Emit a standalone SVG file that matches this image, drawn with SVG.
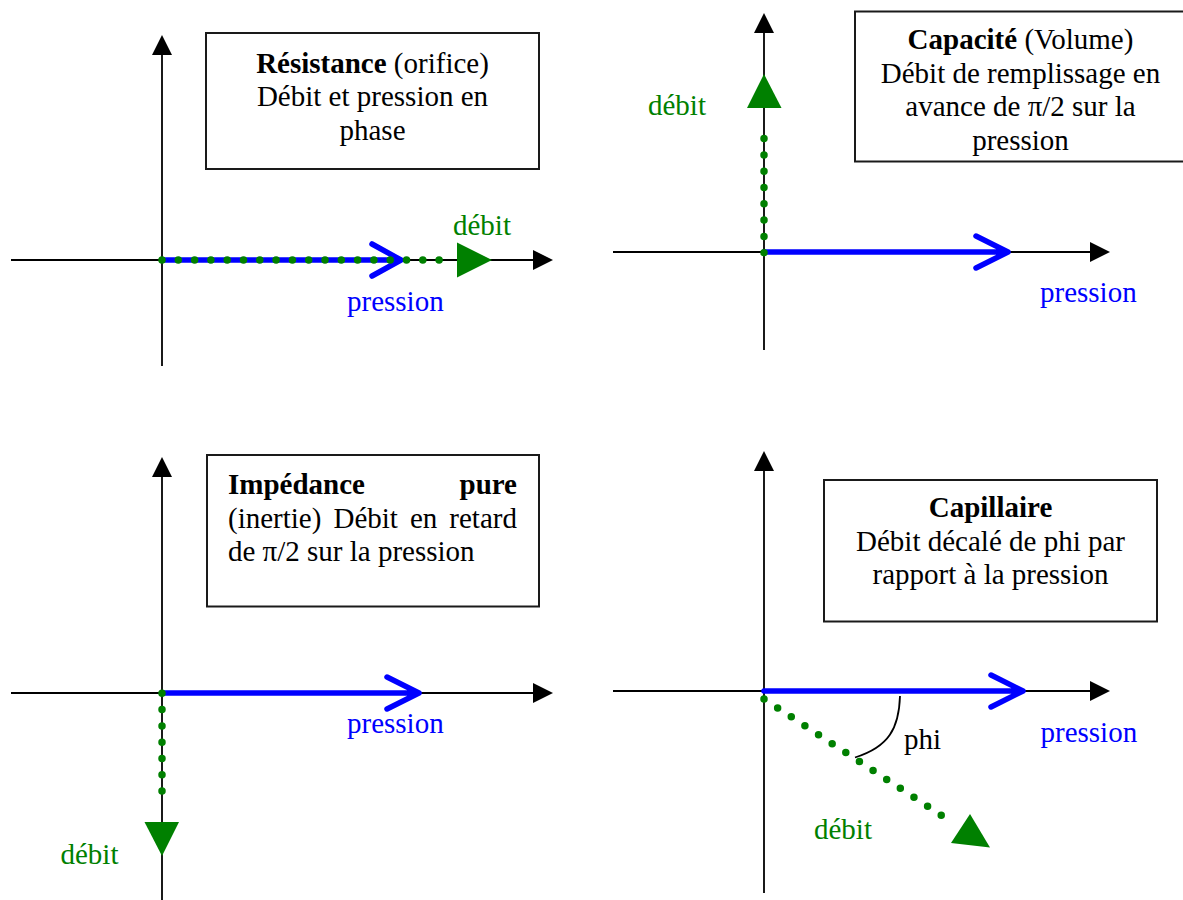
<svg xmlns="http://www.w3.org/2000/svg" width="1183" height="900" viewBox="0 0 1183 900">
<defs>
<marker id="axhead" markerUnits="userSpaceOnUse" markerWidth="20" markerHeight="20" refX="0" refY="10" orient="auto" viewBox="0 0 20 20"><path d="M0,0 L20,10 L0,20 Z" fill="#000"/></marker>
</defs>
<style>
.axis{stroke:#000;stroke-width:1.8;fill:none}
.box{fill:#fff;stroke:#1a1a1a;stroke-width:2}
.t{font-family:"Liberation Serif","Times New Roman",serif;font-size:29px;fill:#000}
.b{font-weight:bold}
.c{text-anchor:middle}
.e{text-anchor:end}
.blue{stroke:#0000ff;stroke-width:5.5;fill:none;stroke-linecap:round;stroke-linejoin:round}
.dots{stroke:#008000;stroke-width:7.5;stroke-linecap:round;stroke-dasharray:0 16.3;fill:none}
.gh{fill:#008000}
.lb{fill:#0000ff}
.lg{fill:#008000}
.arc{stroke:#000;stroke-width:1.8;fill:none}
</style>
<rect width="1183" height="900" fill="#fff"/>

<g id="axes">
<line class="axis" x1="11" y1="260" x2="533" y2="260" marker-end="url(#axhead)"/>
<line class="axis" x1="162" y1="366" x2="162" y2="55" marker-end="url(#axhead)"/>
<line class="axis" x1="613" y1="252" x2="1090" y2="252" marker-end="url(#axhead)"/>
<line class="axis" x1="764" y1="350" x2="764" y2="33" marker-end="url(#axhead)"/>
<line class="axis" x1="11" y1="693" x2="533" y2="693" marker-end="url(#axhead)"/>
<line class="axis" x1="162" y1="900" x2="162" y2="477" marker-end="url(#axhead)"/>
<line class="axis" x1="613" y1="691" x2="1090" y2="691" marker-end="url(#axhead)"/>
<line class="axis" x1="764" y1="893" x2="764" y2="471" marker-end="url(#axhead)"/>
</g>

<g id="connectors">
<path class="blue" d="M162,260 H401 M372,244 L401,260 L372,276"/>
<line class="dots" x1="162" y1="260" x2="455" y2="260"/>
<polygon class="gh" points="457,242.5 492,260 457,277.5"/>

<path class="blue" d="M764,252 H1008 M976,236 L1008,252 L976,268"/>
<line class="dots" x1="764" y1="252.7" x2="764" y2="122.3"/>
<polygon class="gh" points="764,74 747,108 781.5,108"/>

<path class="blue" d="M162,693 H419 M387,677 L419,693 L387,709"/>
<line class="dots" x1="162" y1="693.3" x2="162" y2="807.3"/>
<polygon class="gh" points="144.5,822 179,822 162,856"/>

<path class="blue" d="M764,691 H1023 M991,675 L1023,691 L991,707"/>
<line class="dots" x1="764" y1="699" x2="954.7" y2="824"/>
<polygon class="gh" points="970,814 951,843 990,847.5"/>
<path class="arc" d="M900,696 C899,728 889,747 855,757.5"/>
</g>

<g id="labels">
<text class="t lg" x="453" y="235">débit</text>
<text class="t lb" x="347" y="311">pression</text>
<text class="t lg" x="648" y="115">débit</text>
<text class="t lb" x="1040" y="302">pression</text>
<text class="t lg" x="60.5" y="864">débit</text>
<text class="t lb" x="347" y="733">pression</text>
<text class="t lg" x="814" y="839">débit</text>
<text class="t lb" x="1040.5" y="742">pression</text>
<text class="t" x="904" y="749">phi</text>
</g>

<g id="box-resistance">
<rect class="box" x="206" y="33" width="333" height="136"/>
<text class="t c" x="372.5" y="72.5"><tspan class="b">Résistance</tspan> (orifice)</text>
<text class="t c" x="372.5" y="106">Débit et pression en</text>
<text class="t c" x="372.5" y="139.5">phase</text>
</g>

<g id="box-capacite">
<rect class="box" x="855" y="11.5" width="331" height="150"/>
<text class="t c" x="1020.5" y="49"><tspan class="b">Capacité</tspan> (Volume)</text>
<text class="t c" x="1020.5" y="82.5">Débit de remplissage en</text>
<text class="t c" x="1020.5" y="116">avance de π/2 sur la</text>
<text class="t c" x="1020.5" y="149.5">pression</text>
</g>

<g id="box-impedance">
<rect class="box" x="207" y="455" width="332" height="151.5"/>
<text class="t b" x="228" y="494">Impédance</text>
<text class="t b e" x="517" y="494">pure</text>
<text class="t" x="228" y="527.5" word-spacing="4.8">(inertie) Débit en retard</text>
<text class="t" x="228" y="561">de π/2 sur la pression</text>
</g>

<g id="box-capillaire">
<rect class="box" x="824" y="480" width="333" height="141.5"/>
<text class="t c b" x="990.5" y="517">Capillaire</text>
<text class="t c" x="990.5" y="550.5">Débit décalé de phi par</text>
<text class="t c" x="990.5" y="584">rapport à la pression</text>
</g>
</svg>
